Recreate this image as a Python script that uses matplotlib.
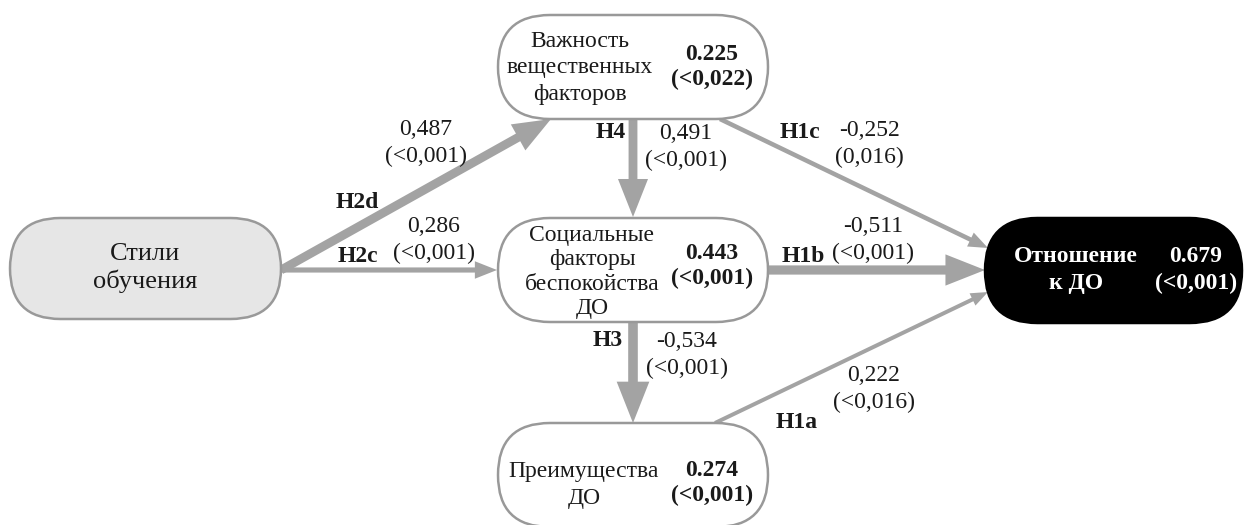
import matplotlib
matplotlib.use("Agg")
import matplotlib.pyplot as plt
from matplotlib.patches import FancyBboxPatch

plt.rcParams['font.family'] = ['Liberation Serif', 'DejaVu Serif']

# Path coefficients, p-values and hypothesis tags
hyp_labels = ['H2d', 'H2c', 'H4', 'H1c', 'H1b', 'H3', 'H1a']
path_coefs = [0.487, 0.286, 0.491, -0.252, -0.511, -0.534, 0.222]
path_pvals = ['<0,001', '<0,001', '<0,001', '0,016', '<0,001', '<0,001', '<0,016']

# Constructs, explained variance and its p-value
node_names = ['Стили\nобучения', 'Важность\nвещественных\nфакторов',
              'Социальные\nфакторы\nбеспокойства\nДО', 'Преимущества\nДО',
              'Отношение\nк ДО']
node_r2 = [None, 0.225, 0.443, 0.274, 0.679]
node_pvals = [None, '<0,022', '<0,001', '<0,001', '<0,001']

# box geometry in pixel units: x0, y0 (top), width, height
boxes = [(10, 218, 271, 101), (498, 15, 270, 104), (498, 218, 270, 104),
         (498, 423, 270, 104), (985, 218, 257, 105)]
name_xy = [(145, 268), (580, 68), (592, 272), (584, 485), (1076, 270)]
name_size = [19, 17, 17, 17, 17]
name_spacing = [1.22, 1.32, 1.22, 1.32, 1.35]
r2_xy = [None, (712, 67), (712, 266), (712, 483), (1196, 270)]
box_face = ['#e6e6e6', 'white', 'white', 'white', 'black']
box_edge = ['#999999', '#999999', '#999999', '#999999', 'black']
text_color = ['#1a1a1a', '#1a1a1a', '#1a1a1a', '#1a1a1a', 'white']

# arrow start/end points and label positions
arrows = [((281, 270), (551, 119)), ((281, 270), (497, 270)),
          ((633, 119), (633, 217)), ((720, 119), (988, 248)),
          ((768, 270), (985, 270)), ((633, 323), (633, 423)),
          ((715, 423), (988, 292))]
hyp_xy = [(357, 203), (358, 257), (611, 132), (800, 133), (803, 257),
          (608, 340), (797, 423)]
coef_xy = [(426, 143), (434, 240), (686, 147), (869, 144), (873, 240),
           (687, 355), (874, 389)]

ARROW_GREY = '#a3a3a3'

fig = plt.figure(figsize=(12.46, 5.25), dpi=100)
ax = fig.add_axes([0, 0, 1, 1])
ax.set_xlim(0, 1246)
ax.set_ylim(525, 0)
ax.axis('off')

for i, (x0, y0, w, h) in enumerate(boxes):
    ax.add_patch(FancyBboxPatch((x0, y0), w, h,
                                boxstyle=f"round,pad=0,rounding_size={h / 2}",
                                fc=box_face[i], ec=box_edge[i], lw=1.8, zorder=2))
    bold = 'bold' if i == 4 else 'normal'
    ax.text(*name_xy[i], node_names[i], ha='center', va='center',
            fontsize=name_size[i], linespacing=name_spacing[i],
            color=text_color[i], fontweight=bold, zorder=3)
    if node_r2[i] is not None:
        ax.text(*r2_xy[i], f"{node_r2[i]:.3f}\n({node_pvals[i]})", ha='center',
                va='center', fontsize=17, linespacing=1.35 if i == 4 else 1.28,
                fontweight='bold', color=text_color[i], zorder=3)

for i, ((xs, ys), (xe, ye)) in enumerate(arrows):
    w = 18 * abs(path_coefs[i])
    ax.arrow(xs, ys, xe - xs, ye - ys, width=w, head_width=w * 3.4,
             head_length=w * 4.3, length_includes_head=True,
             fc=ARROW_GREY, ec='none', zorder=1)
    ax.text(*hyp_xy[i], hyp_labels[i], ha='center', va='center', fontsize=17,
            fontweight='bold', color='#1a1a1a')
    coef = f"{path_coefs[i]:.3f}".replace('.', ',')
    ax.text(*coef_xy[i], f"{coef}\n({path_pvals[i]})", ha='center', va='center',
            fontsize=17, linespacing=1.42, color='#1a1a1a')

fig.savefig('out.png', dpi=100)
